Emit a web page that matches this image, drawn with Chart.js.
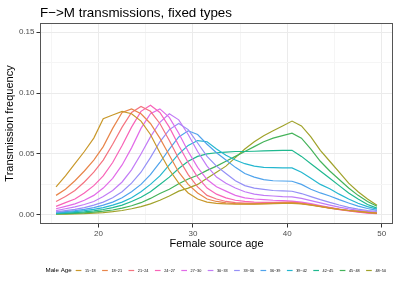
<!DOCTYPE html>
<html>
<head>
<meta charset="utf-8">
<script src="https://cdn.jsdelivr.net/npm/chart.js@4.4.1/dist/chart.umd.min.js"></script>
<style>
  html, body { margin: 0; padding: 0; background: #fff; }
  #wrap { width: 399px; height: 285px; }
</style>
</head>
<body>
<div id="wrap"><canvas id="chart" width="399" height="285"></canvas></div>
<script>
// female source age (x) and the male age groups (series)
const ages = [15.5, 16.5, 17.5, 18.5, 19.5, 20.5, 21.5, 22.5, 23.5, 24.5, 25.5, 26.5,
  27.5, 28.5, 29.5, 30.5, 31.5, 32.5, 33.5, 34.5, 35.5, 36.5, 37.5, 38.5, 39.5, 40.5,
  41.5, 42.5, 43.5, 44.5, 45.5, 46.5, 47.5, 48.5, 49.5];

const groups = ["15−18", "18−21", "21−24", "24−27", "27−30", "30−33",
  "33−36", "36−39", "39−42", "42−45", "45−48", "48−50"];

const colors = ["#C9982A", "#E8854A", "#F4737F", "#F864B8", "#E26BE8", "#C27CF6",
  "#9590F6", "#4FA3EC", "#24B7CF", "#1FB88F", "#45B35A", "#A0A22A"];

const s1518 = [.023,.032,.042,.052,.063,.079,.082,.085,.083,.077,.066,.051,.037,.026,.018,.013,.0105,.0095,.009,.0088,.0088,.0088,.009,.0092,.0094,.0095,.009,.008,.0068,.0056,.0045,.0036,.0028,.0021,.0015];
const s1821 = [.016,.021,.028,.036,.045,.056,.071,.084,.087,.083,.075,.063,.049,.035,.025,.018,.013,.011,.0098,.0093,.009,.009,.0092,.0095,.0098,.01,.0093,.0082,.007,.0057,.0046,.0036,.0028,.002,.0014];
const s2124 = [.011,.015,.020,.027,.035,.045,.058,.072,.084,.089,.085,.075,.061,.046,.033,.023,.016,.013,.011,.010,.0097,.0095,.0097,.010,.0103,.0105,.0097,.0085,.0072,.0058,.0046,.0035,.0026,.0018,.0011];
const s2427 = [.007,.010,.013,.018,.024,.032,.043,.057,.072,.085,.090,.084,.072,.057,.043,.031,.022,.017,.014,.012,.011,.0105,.0103,.0103,.0103,.0103,.0095,.0083,.007,.0056,.0043,.0032,.0023,.0015,.0009];
const s2730 = [.005,.007,.009,.012,.016,.022,.030,.041,.055,.071,.083,.087,.080,.067,.052,.039,.029,.023,.0195,.016,.014,.013,.0125,.012,.0117,.0113,.0105,.0092,.0077,.0062,.0048,.0036,.0026,.0018,.0012];
const s3033 = [.0035,.005,.0065,.0085,.011,.015,.020,.027,.037,.050,.064,.076,.083,.078,.066,.052,.040,.031,.026,.022,.019,.017,.016,.0155,.015,.0148,.0135,.0117,.0098,.008,.0063,.0049,.0037,.0028,.002];
const s3336 = [.0025,.0035,.0045,.006,.008,.0105,.014,.019,.026,.035,.047,.060,.070,.075,.070,.059,.048,.040,.034,.028,.024,.022,.021,.020,.0197,.0194,.0175,.015,.0125,.0102,.0081,.0062,.0047,.0036,.0029];
const s3639 = [.002,.0027,.0035,.0045,.006,.008,.0105,.014,.019,.025,.033,.043,.054,.064,.069,.066,.058,.051,.045,.039,.034,.031,.029,.028,.0278,.0276,.025,.021,.018,.0155,.0125,.0097,.0072,.0052,.0037];
const s3942 = [.0015,.002,.0027,.0035,.0045,.006,.008,.0105,.014,.019,.025,.032,.041,.050,.057,.061,.060,.054,.049,.045,.042,.040,.039,.0388,.0386,.0385,.035,.030,.025,.0215,.017,.013,.0095,.0068,.0047];
const s4245 = [.001,.0014,.0019,.0025,.0033,.0044,.006,.008,.011,.0145,.019,.025,.031,.038,.044,.048,.050,.051,.0515,.052,.052,.0522,.0525,.0527,.053,.053,.048,.042,.036,.030,.024,.018,.013,.0085,.0055];
const s4548 = [.0008,.001,.0013,.0017,.0022,.003,.004,.0055,.0075,.010,.0135,.0175,.021,.0255,.0295,.0325,.0365,.040,.044,.048,.052,.056,.060,.063,.065,.067,.063,.054,.044,.036,.029,.022,.016,.011,.007];
const s4850 = [.0005,.0006,.0008,.001,.0014,.0019,.0026,.0036,.005,.0068,.009,.012,.0155,.0195,.022,.025,.030,.035,.040,.047,.054,.060,.065,.069,.073,.077,.073,.064,.053,.044,.035,.026,.019,.013,.0078];

const series = [s1518, s1821, s2124, s2427, s2730, s3033, s3336, s3639, s3942, s4245, s4548, s4850];

const xTicks = [15, 20, 25, 30, 35, 40, 45, 50];
const xTickLabels = ["", "20", "", "30", "", "40", "", "50"];
const yTicks = [0, 0.025, 0.05, 0.075, 0.1, 0.125, 0.15];
const yTickLabels = ["0.00", "", "0.05", "", "0.10", "", "0.15"];

const FONT = "'Liberation Sans', Arial, sans-serif";
Chart.defaults.font.family = FONT;

const majorGrid = "#EBEBEB";
const minorGrid = "#F5F5F5";

// title, panel border and the legend strip, drawn on top
const decorations = {
  id: "decorations",
  afterDraw(chart) {
    const ctx = chart.ctx;
    const a = chart.chartArea;
    ctx.save();

    ctx.strokeStyle = "#555555";
    ctx.lineWidth = 1;
    ctx.strokeRect(Math.round(a.left) + 0.5, Math.round(a.top) + 0.5,
      Math.round(a.right - a.left) - 1, Math.round(a.bottom - a.top) - 1);

    ctx.fillStyle = "#000";
    ctx.textAlign = "left";
    ctx.textBaseline = "alphabetic";
    ctx.font = "13.4px " + FONT;
    ctx.fillText("F−>M transmissions, fixed types", 40, 16.5);

    const ly = 270.5;
    ctx.textBaseline = "middle";
    ctx.font = "6.2px " + FONT;
    ctx.fillText("Male Age", 45.5, ly);

    ctx.font = "3.8px " + FONT;
    chart.data.datasets.forEach((ds, i) => {
      const kx = 75.7 + i * 26.4;
      ctx.strokeStyle = ds.borderColor;
      ctx.lineWidth = 1.2;
      ctx.beginPath();
      ctx.moveTo(kx, ly);
      ctx.lineTo(kx + 5.7, ly);
      ctx.stroke();
      ctx.fillStyle = "#000";
      ctx.fillText(ds.label, kx + 9.3, ly);
    });
    ctx.restore();
  }
};

new Chart(document.getElementById("chart"), {
  type: "line",
  data: {
    datasets: groups.map((g, i) => ({
      label: g,
      data: ages.map((a, j) => ({ x: a, y: series[i][j] })),
      borderColor: colors[i],
      backgroundColor: colors[i],
      borderWidth: 1.2,
      pointRadius: 0,
      tension: 0,
      fill: false
    }))
  },
  options: {
    responsive: false,
    animation: false,
    layout: { padding: { left: 0, right: 6, top: 23, bottom: 31 } },
    plugins: {
      legend: { display: false },
      title: { display: false },
      tooltip: { enabled: false }
    },
    scales: {
      x: {
        type: "linear",
        min: 13.8,
        max: 51.2,
        afterFit: s => { s.height = 30; },
        afterBuildTicks: s => { s.ticks = xTicks.map(v => ({ value: v })); },
        ticks: {
          autoSkip: false,
          maxRotation: 0,
          color: "#4D4D4D",
          font: { size: 8 },
          padding: 1.5,
          callback: (v, i) => xTickLabels[i]
        },
        grid: {
          color: c => (xTickLabels[c.index] ? majorGrid : minorGrid),
          tickColor: c => (xTickLabels[c.index] ? "#333333" : "rgba(0,0,0,0)"),
          tickLength: 3.5
        },
        border: { display: false },
        title: {
          display: true,
          text: "Female source age",
          color: "#000",
          font: { size: 11 },
          padding: { top: 0, bottom: 3 }
        }
      },
      y: {
        min: -0.0075,
        max: 0.1575,
        afterFit: s => { s.width = 40; },
        afterBuildTicks: s => { s.ticks = yTicks.map(v => ({ value: v })); },
        ticks: {
          autoSkip: false,
          color: "#4D4D4D",
          font: { size: 8 },
          padding: 2,
          callback: (v, i) => yTickLabels[i]
        },
        grid: {
          color: c => (yTickLabels[c.index] ? majorGrid : minorGrid),
          tickColor: c => (yTickLabels[c.index] ? "#333333" : "rgba(0,0,0,0)"),
          tickLength: 3.5
        },
        border: { display: false },
        title: {
          display: true,
          text: "Transmission frequency",
          color: "#000",
          font: { size: 11 },
          padding: { top: 3, bottom: 0 }
        }
      }
    }
  },
  plugins: [decorations]
});
</script>
</body>
</html>
